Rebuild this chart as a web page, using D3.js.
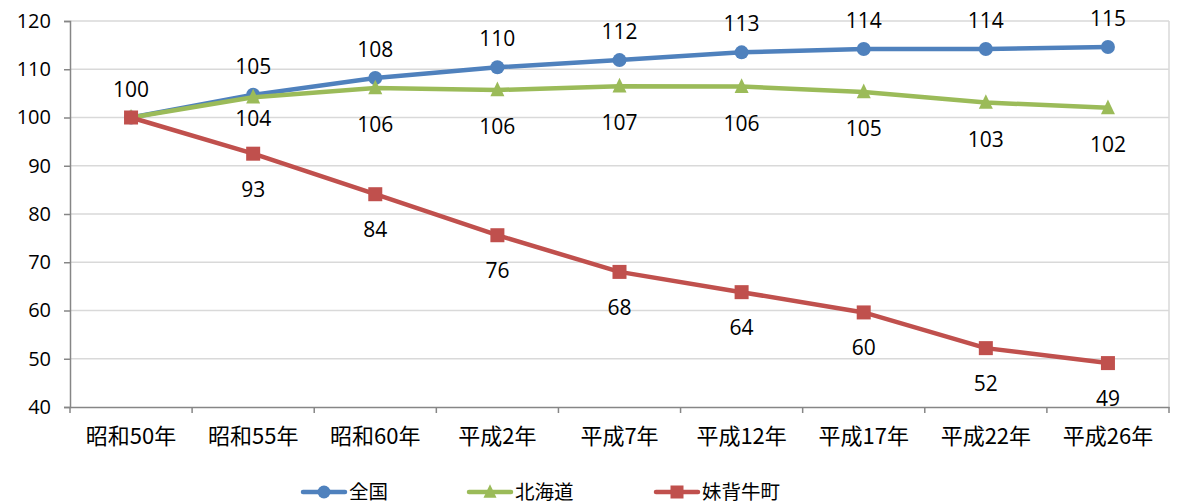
<!DOCTYPE html>
<html>
<head>
<meta charset="utf-8">
<script src="https://cdn.jsdelivr.net/npm/d3@7/dist/d3.min.js"></script>
<style>
  html, body { margin: 0; padding: 0; background: #fff; }
  svg { display: block; }
  text { font-family: "Open Sans", "Noto Sans CJK JP", sans-serif; fill: #000; }
</style>
</head>
<body>
<svg id="chart" width="1179" height="504"></svg>
<script>
// Population index (昭和50年 = 100)
const categories = ["昭和50年", "昭和55年", "昭和60年", "平成2年", "平成7年", "平成12年", "平成17年", "平成22年", "平成26年"];
const zenkoku   = [100, 104.7, 108.2, 110.4, 111.9, 113.5, 114.2, 114.2, 114.6];
const hokkaido  = [100, 104.2, 106.1, 105.7, 106.5, 106.4, 105.3, 103.1, 102.0];
const moseushi  = [100, 92.5, 84.1, 75.6, 68.0, 63.8, 59.6, 52.2, 49.1];
// Labels shown beside each point ("" = none)
const zenkokuLabels  = ["100", "105", "108", "110", "112", "113", "114", "114", "115"];
const hokkaidoLabels = ["", "104", "106", "106", "107", "106", "105", "103", "102"];
const moseushiLabels = ["", "93", "84", "76", "68", "64", "60", "52", "49"];
const yTicks = [40, 50, 60, 70, 80, 90, 100, 110, 120];

const series = [
  { name: "全国",     values: zenkoku,  labels: zenkokuLabels,  color: "#4F81BD", marker: "circle",   labelDy: -29 },
  { name: "北海道",   values: hokkaido, labels: hokkaidoLabels, color: "#9BBB59", marker: "triangle", labelDy: 36 },
  { name: "妹背牛町", values: moseushi, labels: moseushiLabels, color: "#C0504D", marker: "square",   labelDy: 35 }
];

const svg = d3.select("#chart");
const plotLeft = 70, plotRight = 1169, plotTop = 21, plotBottom = 407;

const x = d3.scaleBand().domain(categories).range([plotLeft, plotRight]).paddingInner(0).paddingOuter(0);
const y = d3.scaleLinear().domain([40, 120]).range([plotBottom, plotTop]);
const cx = d => x(d) + x.bandwidth() / 2;

// Horizontal gridlines
svg.append("g").selectAll("line").data(yTicks.filter(t => t > 40)).join("line")
  .attr("x1", plotLeft).attr("x2", plotRight)
  .attr("y1", d => y(d)).attr("y2", d => y(d))
  .attr("stroke", "#d9d9d9").attr("stroke-width", 1.5);

// Right border of plot area
svg.append("line").attr("x1", plotRight).attr("x2", plotRight).attr("y1", plotTop).attr("y2", plotBottom)
  .attr("stroke", "#d9d9d9").attr("stroke-width", 1.5);

// Y axis
const yAxis = svg.append("g").attr("transform", `translate(${plotLeft},0)`)
  .call(d3.axisLeft(y).tickValues(yTicks).tickSize(6).tickPadding(13));
yAxis.select(".domain").attr("stroke", "#868686").attr("stroke-width", 1.5);
yAxis.selectAll(".tick line").attr("stroke", "#868686").attr("stroke-width", 1.5);
yAxis.selectAll(".tick text").style("font-size", "20px").attr("fill", "#000")
  .style("font-family", "'Open Sans', sans-serif");

// X axis
const xAxis = svg.append("g").attr("transform", `translate(0,${plotBottom})`)
  .call(d3.axisBottom(x).tickSize(0).tickPadding(21).tickSizeOuter(0));
xAxis.select(".domain").attr("stroke", "#868686").attr("stroke-width", 1.5);
xAxis.selectAll(".tick text").style("font-size", "22px").attr("fill", "#000")
  .style("font-family", "'Noto Sans CJK JP', 'Open Sans', sans-serif");
// Boundary tick marks between categories
const bounds = categories.map(c => x(c)).concat([plotRight]);
svg.append("g").selectAll("line").data(bounds).join("line")
  .attr("x1", d => d).attr("x2", d => d)
  .attr("y1", plotBottom).attr("y2", plotBottom + 6)
  .attr("stroke", "#868686").attr("stroke-width", 1.5);

function drawMarker(g, type, color, px, py, size) {
  if (type === "circle") {
    g.append("circle").attr("cx", px).attr("cy", py).attr("r", size / 2).attr("fill", color);
  } else if (type === "square") {
    g.append("rect").attr("x", px - size / 2).attr("y", py - size / 2)
      .attr("width", size).attr("height", size).attr("fill", color);
  } else {
    const h = size;
    g.append("path")
      .attr("d", `M${px},${py - h * 0.6} L${px + h / 2},${py + h * 0.45} L${px - h / 2},${py + h * 0.45} Z`)
      .attr("fill", color);
  }
}

const line = d3.line().x((d, i) => cx(categories[i])).y(d => y(d));

// Draw in order: blue, green, red (red on top)
series.forEach(s => {
  const g = svg.append("g");
  g.append("path").datum(s.values).attr("d", line)
    .attr("fill", "none").attr("stroke", s.color).attr("stroke-width", 4.5)
    .attr("stroke-linejoin", "round");
  s.values.forEach((v, i) => drawMarker(g, s.marker, s.color, cx(categories[i]), y(v), 14));
});

// Data labels
series.forEach(s => {
  svg.append("g").selectAll("text").data(s.values).join("text")
    .attr("x", (d, i) => cx(categories[i]))
    .attr("y", (d, i) => {
      let dy = s.labelDy;
      if (s.name === "北海道" && i === 1) dy = 21;
      return y(d) + dy;
    })
    .attr("text-anchor", "middle").attr("dominant-baseline", "central")
    .style("font-size", "21px")
    .text((d, i) => s.labels[i]);
});

// Legend
const legendX = [303, 469, 656];
const legendY = 492;
series.forEach((s, i) => {
  const g = svg.append("g");
  const x0 = legendX[i];
  g.append("line").attr("x1", x0).attr("x2", x0 + 42).attr("y1", legendY).attr("y2", legendY)
    .attr("stroke", s.color).attr("stroke-width", 4.5).attr("stroke-linecap", "round");
  drawMarker(g, s.marker, s.color, x0 + 21, legendY, 13);
  g.append("text").attr("x", x0 + 46).attr("y", legendY - 2).attr("dominant-baseline", "central")
    .style("font-size", "19.5px").style("font-family", "'Noto Sans CJK JP', sans-serif")
    .text(s.name);
});
</script>
</body>
</html>
